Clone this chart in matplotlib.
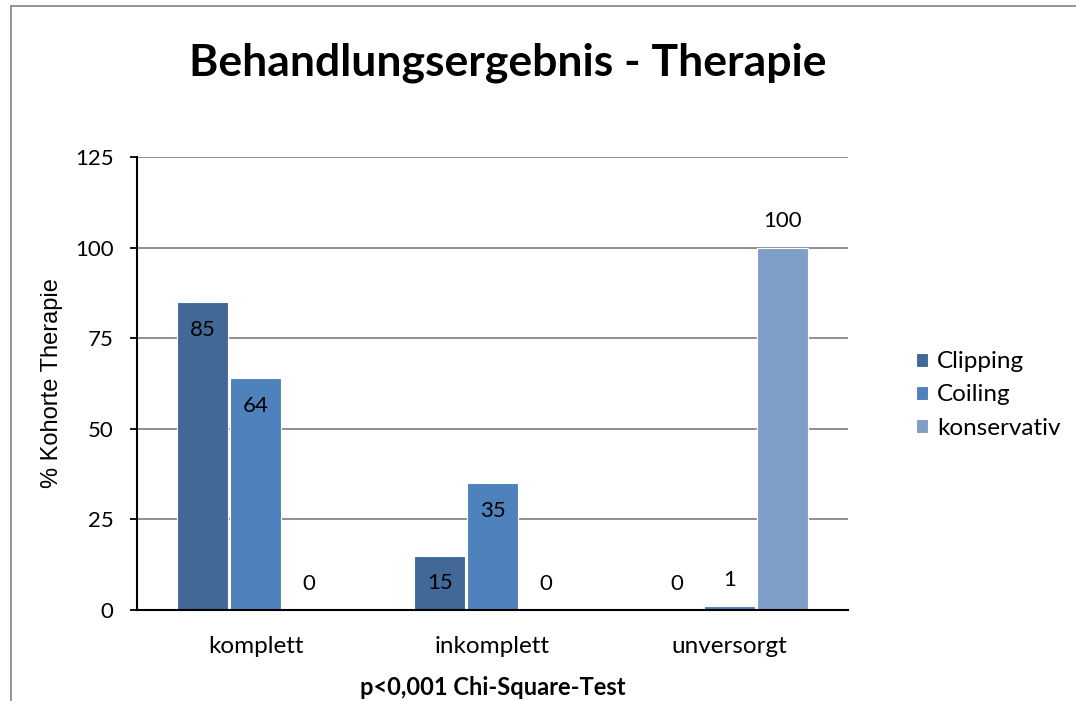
import matplotlib
matplotlib.use("Agg")
import matplotlib.pyplot as plt
import numpy as np
from matplotlib.lines import Line2D

categories = ["komplett", "inkomplett", "unversorgt"]
series = ["Clipping", "Coiling", "konservativ"]
clipping = [85, 15, 0]
coiling = [64, 35, 1]
konservativ = [0, 0, 100]
values = [clipping, coiling, konservativ]
colors = ["#426898", "#4F81BD", "#7F9EC8"]
yticks = [0, 25, 50, 75, 100, 125]

W, H = 1076, 701
fig = plt.figure(figsize=(W / 100, H / 100), dpi=100)
fig.patch.set_facecolor("white")

# outer chart border (left and top visible)
bc = "#8c8c8c"
fig.add_artist(Line2D([10.5 / W, 10.5 / W], [0, 1 - 6 / H], transform=fig.transFigure,
                      color=bc, linewidth=1.3))
fig.add_artist(Line2D([10.5 / W, 1], [1 - 6 / H, 1 - 6 / H], transform=fig.transFigure,
                      color=bc, linewidth=1.3))

ax = fig.add_axes([137 / W, (H - 610) / H, (848 - 137) / W, (610 - 157) / H])
x = np.arange(len(categories))
bw = 0.215
gap = 0.008
for i, (name, vals, c) in enumerate(zip(series, values, colors)):
    pos = x + (i - 1) * (bw + gap)
    ax.bar(pos, vals, width=bw, color=c, edgecolor="white", linewidth=0.8,
           label=name, zorder=3)
    for px_, v in zip(pos, vals):
        off = -20 if 10 <= v < 100 else 19
        ax.annotate(str(v), (px_, v), xytext=(0, off), textcoords="offset points",
                    ha="center", va="center", fontsize=16, family="Lato",
                    color="black", zorder=4)

ax.set_xlim(-0.5, 2.5)
ax.set_ylim(0, 125)
ax.set_yticks(yticks)
ax.set_yticklabels([str(t) for t in yticks], family="Lato", fontsize=16)
ax.set_xticks(x)
ax.set_xticklabels(categories, family="Lato", fontsize=17.5)
ax.tick_params(axis="x", length=0, pad=19)
ax.tick_params(axis="y", length=5, width=1.3, direction="out", pad=12)
ax.grid(axis="y", color="#868686", linewidth=1.3, zorder=0)
ax.set_axisbelow(True)
for s in ["top", "right"]:
    ax.spines[s].set_visible(False)
for s in ["left", "bottom"]:
    ax.spines[s].set_linewidth(1.5)
    ax.spines[s].set_color("black")
    ax.spines[s].set_zorder(5)

ax.set_ylabel("% Kohorte Therapie", family="Liberation Sans", fontsize=17)
ax.yaxis.set_label_coords((63 - 137) / 711, 0.5)
ax.set_xlabel("p<0,001 Chi-Square-Test", family="Lato", fontweight="bold",
              fontsize=17)
ax.xaxis.set_label_coords(0.5, -(676 - 610) / 453)

fig.text(508 / W, 1 - 63 / H, "Behandlungsergebnis - Therapie", ha="center",
         va="center", family="Lato", fontweight="bold", fontsize=32)

leg = ax.legend(loc="center left", bbox_to_anchor=(916 / W, 1 - 395 / H),
                bbox_transform=fig.transFigure, frameon=False,
                prop={"family": "Lato", "size": 17.5},
                handlelength=0.5, handleheight=0.5, handletextpad=0.37,
                labelspacing=0.5, borderaxespad=0, borderpad=0)

fig.savefig("out.png", dpi=100)
